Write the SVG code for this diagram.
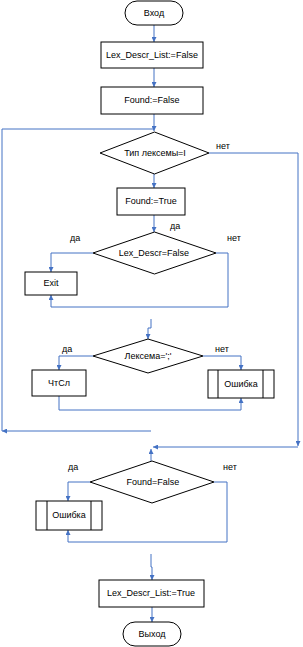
<svg xmlns="http://www.w3.org/2000/svg" width="303" height="647" viewBox="0 0 303 647">
<style>
.s{fill:#fff;stroke:#000;stroke-width:1}
.t{font-family:"Liberation Sans",Arial,sans-serif;font-size:9px;fill:#000;text-anchor:middle}
.l{font-family:"Liberation Sans",Arial,sans-serif;font-size:9px;fill:#000}
.c{fill:none;stroke:#4472C4;stroke-width:1}
</style>
<defs>
<marker id="a" markerWidth="5" markerHeight="5" refX="5" refY="2.5" orient="auto" markerUnits="userSpaceOnUse">
<path d="M0,0 L5,2.5 L0,5 z" fill="#4472C4"/>
</marker>
</defs>
<rect width="303" height="647" fill="#fff"/>
<g id="connectors">
<path class="c" d="M154,25 V42" marker-end="url(#a)"/>
<path class="c" d="M154,68 V87" marker-end="url(#a)"/>
<path class="c" d="M154,114 V131" marker-end="url(#a)"/>
<path class="c" d="M151,431 H2" marker-end="url(#a)"/>
<path class="c" d="M2,431 V129 H154"/>
<path class="c" d="M154,174 V188" marker-end="url(#a)"/>
<path class="c" d="M154,215 V232" marker-end="url(#a)"/>
<path class="c" d="M209,153 H298 V446" marker-end="url(#a)"/>
<path class="c" d="M298,447 H153" marker-end="url(#a)"/>
<path class="c" d="M151,461 V449" marker-end="url(#a)"/>
<path class="c" d="M93,253 H51 V272" marker-end="url(#a)"/>
<path class="c" d="M216,253 H228 V307 H51 V295" marker-end="url(#a)"/>
<path class="c" d="M151,319 V328 H148 V339" marker-end="url(#a)"/>
<path class="c" d="M93,356 H59 V370" marker-end="url(#a)"/>
<path class="c" d="M203,356 H241 V370" marker-end="url(#a)"/>
<path class="c" d="M59,396 V410 H241 V398" marker-end="url(#a)"/>
<path class="c" d="M90,482 H68 V501" marker-end="url(#a)"/>
<path class="c" d="M214,482 H227 V542 H68 V530" marker-end="url(#a)"/>
<path class="c" d="M151,554 V567 H152 V580" marker-end="url(#a)"/>
<path class="c" d="M152,607 V622" marker-end="url(#a)"/>
</g>
<g id="start"><rect class="s" x="125" y="1" width="58" height="24" rx="12"/><text class="t" x="154" y="16">Вход</text></g>
<g id="box1"><rect class="s" x="101" y="42" width="102" height="26"/><text class="t" x="152" y="58">Lex_Descr_List:=False</text></g>
<g id="box2"><rect class="s" x="101" y="87" width="102" height="27"/><text class="t" x="152" y="103">Found:=False</text></g>
<g id="d1"><polygon class="s" points="154.5,132 209,153 154.5,174 100,153"/><text class="t" x="155" y="156">Тип лексемы=I</text></g>
<g id="box3"><rect class="s" x="117" y="188" width="68" height="27"/><text class="t" x="151" y="204">Found:=True</text></g>
<g id="d2"><polygon class="s" points="154.5,232 216,253 154.5,274 93,253"/><text class="t" x="154" y="256">Lex_Descr=False</text></g>
<g id="exit"><rect class="s" x="25" y="272" width="52" height="23"/><text class="t" x="51" y="286">Exit</text></g>
<g id="d3"><polygon class="s" points="148,339 203,356 148,373 93,356"/><text class="t" x="148" y="359">Лексема=';'</text></g>
<g id="read"><rect class="s" x="32" y="370" width="54" height="26"/><text class="t" x="59" y="386">ЧтСл</text></g>
<g id="err1"><rect class="s" x="208" y="370" width="66" height="28"/><line class="s" x1="218" y1="370" x2="218" y2="398"/><line class="s" x1="263" y1="370" x2="263" y2="398"/><text class="t" x="241" y="387">Ошибка</text></g>
<g id="d4"><polygon class="s" points="152,461 214,482 152,503 90,482"/><text class="t" x="153" y="485">Found=False</text></g>
<g id="err2"><rect class="s" x="36" y="501" width="66" height="29"/><line class="s" x1="47" y1="501" x2="47" y2="530"/><line class="s" x1="91" y1="501" x2="91" y2="530"/><text class="t" x="69" y="518">Ошибка</text></g>
<g id="box4"><rect class="s" x="99" y="580" width="105" height="27"/><text class="t" x="151" y="596">Lex_Descr_List:=True</text></g>
<g id="end"><rect class="s" x="123" y="622" width="58" height="24" rx="12"/><text class="t" x="152" y="637">Выход</text></g>
<g id="labels">
<text class="l" x="216" y="149">нет</text>
<text class="l" x="170" y="229">да</text>
<text class="l" x="70" y="241">да</text>
<text class="l" x="227" y="241">нет</text>
<text class="l" x="62" y="352">да</text>
<text class="l" x="215" y="352">нет</text>
<text class="l" x="68" y="470">да</text>
<text class="l" x="223" y="470">нет</text>
</g>
</svg>
